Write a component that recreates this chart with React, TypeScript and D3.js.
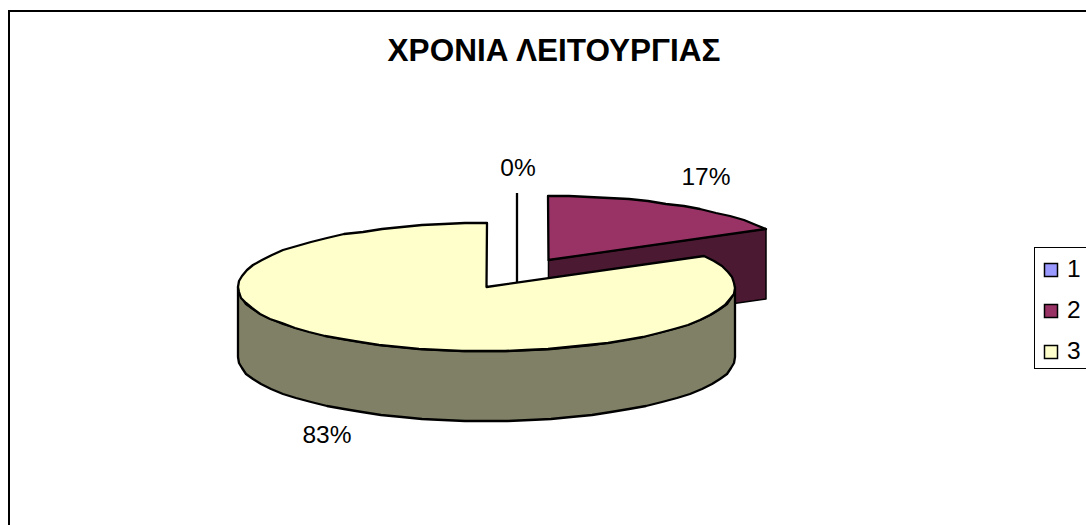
import React from "react";
import * as d3 from "d3";

const categories = ["1", "2", "3"];
const values = [0, 17, 83];
const percentLabels = ["0%", "17%", "83%"];
const topColors = ["#9999FF", "#993366", "#FFFFCC"];
const sideColors = ["#4D4D80", "#4C1933", "#808066"];
const titleText = "ΧΡΟΝΙΑ ΛΕΙΤΟΥΡΓΙΑΣ";

const W = 1086, H = 525;
const cx = 486.5, cy = 287, rx = 248.5, ry = 64, depth = 70;
const explode = 0.49;
const font = "'Liberation Sans', Arial, sans-serif";

const pie = d3.pie<number>().sort(null).startAngle(0).endAngle(2 * Math.PI);
const arcs = pie(values);

const xScale = d3.scaleLinear().domain([-1, 1]).range([cx - rx, cx + rx]);
const yScale = d3.scaleLinear().domain([-1, 1]).range([cy + ry, cy - ry]);

type P = [number, number];
const rim = (a: number, off: P = [0, 0], drop = 0): P => [
  Math.round(xScale(Math.sin(a) + off[0])),
  Math.round(yScale(Math.cos(a) + off[1])) + drop,
];
const rimPts = (a0: number, a1: number, off: P = [0, 0], drop = 0): P[] => {
  const step = (5 * Math.PI) / 180;
  const n = Math.max(1, Math.ceil((a1 - a0) / step));
  return d3.range(n + 1).map((i) => rim(a0 + ((a1 - a0) * i) / n, off, drop));
};
const apex = (off: P = [0, 0], drop = 0): P => [xScale(off[0]), yScale(off[1]) + drop];
const line = d3.line<P>();
const poly = (pts: P[]) => line(pts)! + "Z";

const offsetFor = (i: number): P => {
  if (i === 2) return [0, 0];
  const a = arcs[i];
  const mid = a.endAngle > a.startAngle ? (a.startAngle + a.endAngle) / 2 : (14.5 * Math.PI) / 180;
  return [explode * Math.sin(mid), explode * Math.cos(mid)];
};

const SW = 2.3;

export default function App() {
  const [a1, a2, a3] = arcs;
  const o1 = offsetFor(0), o2 = offsetFor(1);
  const frontStart = Math.max(a3.startAngle, Math.PI / 2);
  const frontEnd = Math.min(a3.endAngle, (3 * Math.PI) / 2);
  const upper = rimPts(frontStart, frontEnd);
  const lower = rimPts(frontStart, frontEnd, [0, 0], depth).reverse();
  const zeroTop = rim(a1.startAngle, o1);
  const wallRightTop = rim(a2.endAngle, o2);
  const wallRightBottom = rim(a2.endAngle, o2, depth);
  return (
    <svg width={W} height={H} style={{ position: "absolute", left: 0, top: 0, background: "#fff" }}>
      <rect x={9} y={11} width={W + 20} height={H + 20} fill="#fff" stroke="#000" strokeWidth={2} />
      <text x={554} y={61} textAnchor="middle" fontFamily={font} fontWeight="bold" fontSize={31.5}>{titleText}</text>

      {/* slice 1: zero-width */}
      <path d={poly([zeroTop, apex(o1, depth)])} fill="none" stroke="#000" strokeWidth={SW} />

      {/* slice 2 */}
      <path
        d={poly([apex(o2), wallRightTop, wallRightBottom, apex(o2, depth)])}
        fill={sideColors[1]} stroke="#000" strokeWidth={1.5} strokeLinejoin="round"
      />
      <path
        d={poly([apex(o2), ...rimPts(a2.startAngle, a2.endAngle, o2)])}
        fill={topColors[1]} stroke="#000" strokeWidth={SW} strokeLinejoin="round"
      />

      {/* slice 3 */}
      <path d={poly([...upper, ...lower])} fill={sideColors[2]} stroke="#000" strokeWidth={SW} strokeLinejoin="round" />
      <path
        d={poly([apex(), ...rimPts(a3.startAngle, a3.endAngle)])}
        fill={topColors[2]} stroke="#000" strokeWidth={SW} strokeLinejoin="round"
      />

      <g fontFamily={font} fontSize={24.5} fill="#000" textAnchor="middle">
        <text x={518} y={176}>{percentLabels[0]}</text>
        <text x={706} y={185}>{percentLabels[1]}</text>
        <text x={327} y={443}>{percentLabels[2]}</text>
      </g>

      <rect x={1034.5} y={247.5} width={W} height={121} fill="#fff" stroke="#000" strokeWidth={1} />
      {categories.map((c, i) => (
        <g key={c} transform={`translate(0,${263.5 + i * 41})`}>
          <rect x={1044.5} y={0} width={13} height={13} fill={topColors[i]} stroke="#000" strokeWidth={1.5} />
          <text x={1067} y={13} fontFamily={font} fontSize={24.5}>{c}</text>
        </g>
      ))}
    </svg>
  );
}
